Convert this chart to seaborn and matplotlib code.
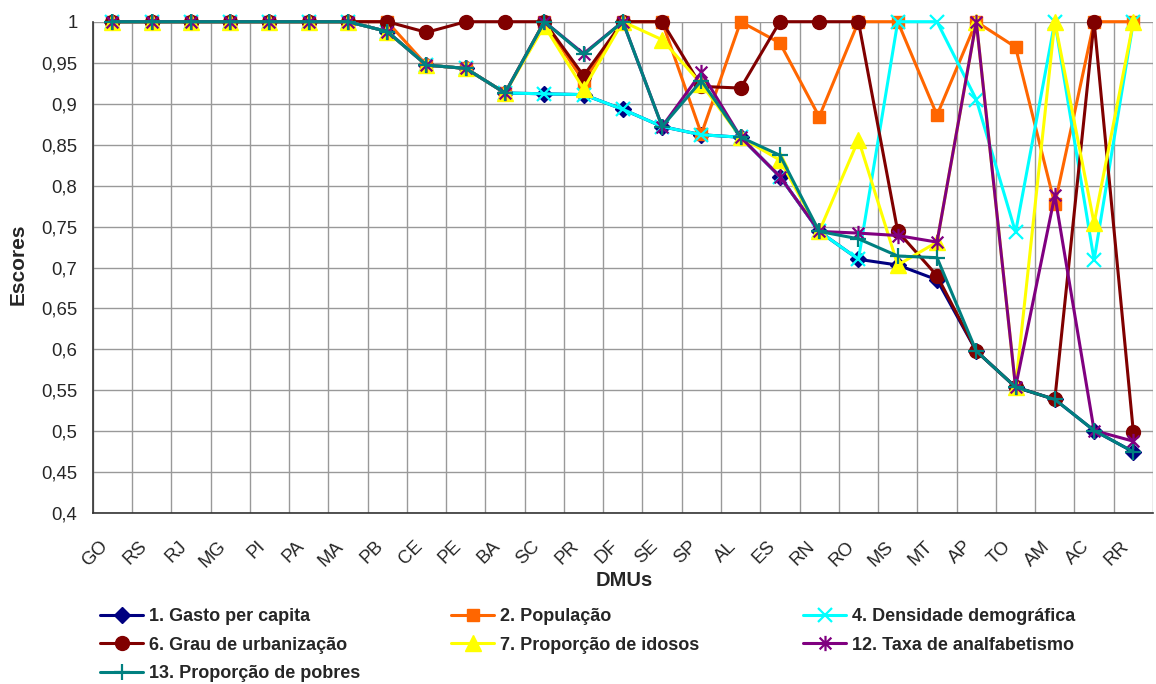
import matplotlib
matplotlib.use("Agg")
import matplotlib.pyplot as plt
import seaborn as sns
from matplotlib.path import Path
from matplotlib.lines import Line2D
from matplotlib.transforms import ScaledTranslation

# ---- data -------------------------------------------------------------
dmus = ["GO", "RS", "RJ", "MG", "PI", "PA", "MA", "PB", "CE", "PE", "BA", "SC", "PR",
        "DF", "SE", "SP", "AL", "ES", "RN", "RO", "MS", "MT", "AP", "TO", "AM", "AC", "RR"]

gasto_per_capita = [1, 1, 1, 1, 1, 1, 1, 0.988, 0.947, 0.943, 0.913, 0.912, 0.911,
                    0.893, 0.872, 0.862, 0.859, 0.811, 0.744, 0.710, 0.703, 0.685,
                    0.598, 0.554, 0.539, 0.501, 0.475]
populacao = [1, 1, 1, 1, 1, 1, 1, 1, 0.947, 0.943, 0.913, 1.0, 0.927,
             1.0, 1.0, 0.863, 1.0, 0.974, 0.884, 1.0, 1.0, 0.886,
             1.0, 0.969, 0.777, 1.0, 1.0]
densidade = [1, 1, 1, 1, 1, 1, 1, 0.988, 0.947, 0.943, 0.913, 0.912, 0.911,
             0.893, 0.872, 0.862, 0.859, 0.811, 0.744, 0.710, 1.0, 1.0,
             0.905, 0.743, 1.0, 0.709, 1.0]
urbanizacao = [1, 1, 1, 1, 1, 1, 1, 1, 0.987, 1.0, 1.0, 1.0, 0.934,
               1.0, 1.0, 0.921, 0.919, 1.0, 1.0, 1.0, 0.744, 0.690,
               0.598, 0.554, 0.539, 1.0, 0.499]
idosos = [1, 1, 1, 1, 1, 1, 1, 0.988, 0.947, 0.943, 0.913, 0.995, 0.918,
          1.0, 0.978, 0.924, 0.859, 0.831, 0.744, 0.856, 0.703, 0.731,
          1.0, 0.554, 1.0, 0.754, 1.0]
analfabetismo = [1, 1, 1, 1, 1, 1, 1, 0.988, 0.947, 0.943, 0.913, 1.0, 0.961,
                 1.0, 0.872, 0.938, 0.859, 0.811, 0.744, 0.742, 0.739, 0.731,
                 1.0, 0.554, 0.788, 0.501, 0.488]
pobres = [1, 1, 1, 1, 1, 1, 1, 0.988, 0.947, 0.943, 0.913, 1.0, 0.960,
          1.0, 0.872, 0.928, 0.859, 0.837, 0.744, 0.735, 0.714, 0.712,
          0.598, 0.554, 0.539, 0.501, 0.475]

series_names = ["1. Gasto per capita", "2. População", "4. Densidade demográfica",
                "6. Grau de urbanização", "7. Proporção de idosos",
                "12. Taxa de analfabetismo", "13. Proporção de pobres"]
series_values = [gasto_per_capita, populacao, densidade, urbanizacao, idosos,
                 analfabetismo, pobres]

y_ticks = [0.4, 0.45, 0.5, 0.55, 0.6, 0.65, 0.7, 0.75, 0.8, 0.85, 0.9, 0.95, 1.0]
y_tick_labels = ["0,4", "0,45", "0,5", "0,55", "0,6", "0,65", "0,7", "0,75",
                 "0,8", "0,85", "0,9", "0,95", "1"]

# ---- styling ----------------------------------------------------------
sns.set_style("white")
plt.rcParams["font.family"] = ["Liberation Sans", "DejaVu Sans"]

# asterisk: an X with a vertical bar through it
star = Path([(-1, -1), (1, 1), (-1, 1), (1, -1), (0, -1.3), (0, 1.3)],
            [Path.MOVETO, Path.LINETO, Path.MOVETO, Path.LINETO, Path.MOVETO, Path.LINETO])

styles = [
    dict(color="#000080", marker="D", markersize=8, mec="#000080", mew=1),
    dict(color="#FF6600", marker="s", markersize=9, mec="#FF6600", mew=1),
    dict(color="#00FFFF", marker="x", markersize=9.5, mec="#00FFFF", mew=1.6),
    dict(color="#800000", marker="o", markersize=10, mec="#800000", mew=1),
    dict(color="#FFFF00", marker="^", markersize=11, mec="#FFFF00", mew=1),
    dict(color="#800080", marker=star, markersize=11, mec="#800080", mew=1.6, mfc="none"),
    dict(color="#008080", marker="+", markersize=12, mec="#008080", mew=1.6),
]

fig = plt.figure(figsize=(11.56, 6.84), dpi=100)
ax = fig.add_axes([92.7 / 1156, 1 - 513.3 / 684, (1153 - 92.7) / 1156, (513.3 - 21.7) / 684])

for name, vals, st in zip(series_names, series_values, styles):
    sns.lineplot(x=dmus, y=vals, ax=ax, sort=False, linewidth=2.2, label=name,
                 clip_on=False, zorder=3, **st)

ax.set_ylim(0.4, 1.0)
ax.set_xlim(-0.5, len(dmus) - 0.5)
ax.set_yticks(y_ticks)
ax.set_yticklabels(y_tick_labels, fontsize=13.3)

ax.set_xticks(range(len(dmus)))
ax.set_xticklabels(dmus, fontsize=13.3, rotation=45, ha="right", va="center",
                   rotation_mode="anchor")
ax.set_xticks([i - 0.5 for i in range(len(dmus) + 1)], minor=True)
ax.tick_params(axis="x", which="major", length=0, pad=22)
ax.tick_params(axis="x", which="minor", length=6, width=1, color="#333333", direction="out")
ax.tick_params(axis="y", which="major", length=6, width=1, color="#333333",
               direction="out", pad=5)
offset = ScaledTranslation(-7 / 100, 0, fig.dpi_scale_trans)
for lbl in ax.get_xticklabels():
    lbl.set_transform(lbl.get_transform() + offset)

ax.grid(False)
ax.yaxis.grid(True, color="#999999", linewidth=1)
ax.xaxis.grid(True, which="minor", color="#999999", linewidth=1)
ax.set_axisbelow(True)
for side in ("top", "right"):
    ax.spines[side].set_visible(False)
for side in ("left", "bottom"):
    ax.spines[side].set_color("#333333")
    ax.spines[side].set_linewidth(1.2)

ax.set_xlabel("")
ax.set_ylabel("")
fig.text(18.5 / 1156, 1 - 264 / 684, "Escores", rotation=90, ha="center",
         va="center", fontsize=15, fontweight="bold")
fig.text(624 / 1156, 1 - 580 / 684, "DMUs", ha="center", va="center",
         fontsize=14.5, fontweight="bold")

# ---- legend in three columns below the plot ----------------------------
ax.get_legend().remove()
handles = [Line2D([], [], linewidth=2.2, **st) for st in styles]
columns = [([0, 3, 6], 100), ([1, 4], 451), ([2, 5], 803)]
for idx, xpx in columns:
    fig.legend([handles[i] for i in idx], [series_names[i] for i in idx],
               loc="upper left", bbox_to_anchor=(xpx / 1156, 1 - 608 / 684),
               frameon=False, prop={"weight": "bold", "size": 13},
               handlelength=2.4, handletextpad=0.33, labelspacing=0.65,
               borderaxespad=0, borderpad=0)

fig.savefig("out.png", dpi=100)
